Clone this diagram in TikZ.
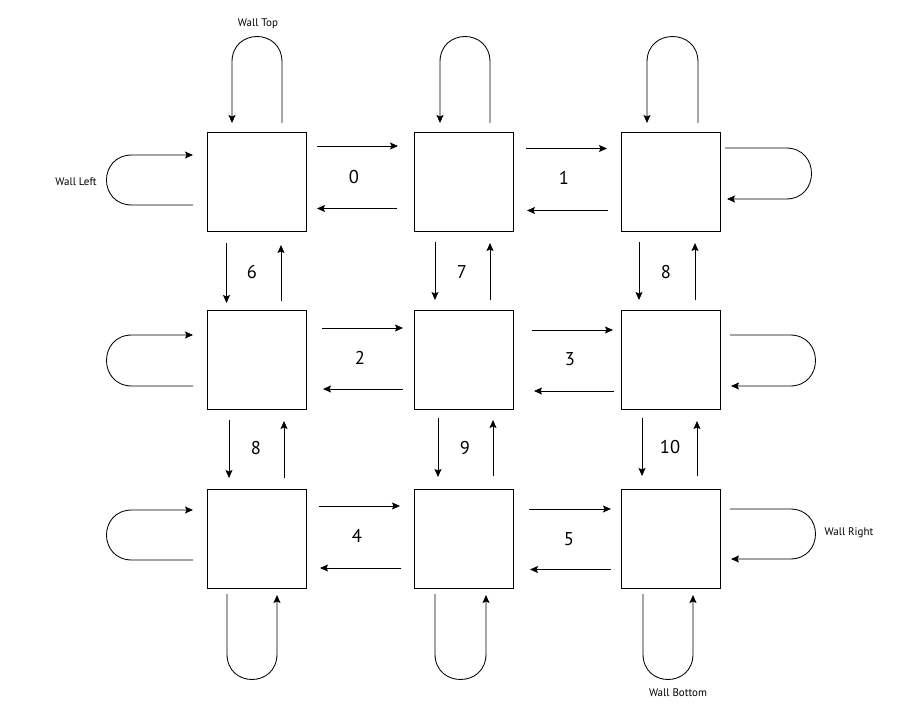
\documentclass[tikz,border=0pt]{standalone}
\usepackage{fontspec}
\setmainfont{PT Sans}
\usetikzlibrary{arrows.meta,calc}
\begin{document}
\begin{tikzpicture}[x=1pt,y=-1pt,
  cell/.style={draw=black,line width=0.95pt,minimum size=99pt,inner sep=0pt},
  arr/.style={draw=black,line width=0.85pt,-{Stealth[length=8pt,width=7pt,inset=1.5pt]}},
  num/.style={font=\fontsize{18.5}{20}\selectfont,inner sep=0pt},
  wall/.style={font=\fontsize{11}{12}\selectfont,inner sep=0pt}]
\useasboundingbox (0,0) rectangle (905,722);
\fill[white] (0,0) rectangle (905,722);
% cells
\node[cell] (n11) at (257,181.5) {};
\node[cell] (n12) at (463.5,181.5) {};
\node[cell] (n13) at (670.5,181.5) {};
\node[cell] (n21) at (257,360) {};
\node[cell] (n22) at (463.5,360) {};
\node[cell] (n23) at (670.5,360) {};
\node[cell] (n31) at (257,538.5) {};
\node[cell] (n32) at (463.5,538.5) {};
\node[cell] (n33) at (670.5,538.5) {};
% horizontal links row 1
\draw[arr] ($(n11)+(60,-35.5)$) -- ($(n12)+(-65.5,-35.5)$);
\draw[arr] ($(n12)+(-66.5,27)$) -- ($(n11)+(60,27)$);
\draw[arr] ($(n12)+(62.5,-33)$) -- ($(n13)+(-63.5,-33)$);
\draw[arr] ($(n13)+(-62.5,29)$) -- ($(n12)+(63.5,29)$);
% row 2
\draw[arr] ($(n21)+(65,-32)$) -- ($(n22)+(-60.5,-32)$);
\draw[arr] ($(n22)+(-60.5,29)$) -- ($(n21)+(66,29)$);
\draw[arr] ($(n22)+(68.5,-30)$) -- ($(n23)+(-57.5,-30)$);
\draw[arr] ($(n23)+(-56.5,31)$) -- ($(n22)+(70.5,31)$);
% row 3
\draw[arr] ($(n31)+(62,-32.5)$) -- ($(n32)+(-63.5,-32.5)$);
\draw[arr] ($(n32)+(-62.5,29.5)$) -- ($(n31)+(63,29.5)$);
\draw[arr] ($(n32)+(65.5,-29.5)$) -- ($(n33)+(-59.5,-29.5)$);
\draw[arr] ($(n33)+(-59.5,31)$) -- ($(n32)+(66.5,31)$);
% vertical links rows 1-2
\draw[arr] ($(n11)+(-30.5,61.5)$) -- ($(n21)+(-30.5,-57)$);
\draw[arr] ($(n21)+(24,-59)$) -- ($(n11)+(24,63.5)$);
\draw[arr] ($(n12)+(-28.5,60.5)$) -- ($(n22)+(-28.5,-60)$);
\draw[arr] ($(n22)+(26.5,-60)$) -- ($(n12)+(26.5,61.5)$);
\draw[arr] ($(n13)+(-31.5,60.5)$) -- ($(n23)+(-31.5,-60)$);
\draw[arr] ($(n23)+(24.5,-60)$) -- ($(n13)+(24.5,61.5)$);
% rows 2-3
\draw[arr] ($(n21)+(-28,60)$) -- ($(n31)+(-28,-60.5)$);
\draw[arr] ($(n31)+(27,-60.5)$) -- ($(n21)+(27,61)$);
\draw[arr] ($(n22)+(-25.5,58)$) -- ($(n32)+(-25.5,-61.5)$);
\draw[arr] ($(n32)+(29.5,-62.5)$) -- ($(n22)+(29.5,60)$);
\draw[arr] ($(n23)+(-28.5,58)$) -- ($(n33)+(-28.5,-62.5)$);
\draw[arr] ($(n33)+(26.5,-62.5)$) -- ($(n23)+(26.5,61)$);
% top wall loops
\draw[arr] ($(n11)+(25,-58.5)$) -- ($(n11)+(25,-119.5)$) .. controls ($(n11)+(25,-153.5)$) and ($(n11)+(-25,-153.5)$) .. ($(n11)+(-25,-119.5)$) -- ($(n11)+(-25,-58.5)$);
\draw[arr] ($(n12)+(26.5,-58.5)$) -- ($(n12)+(26.5,-119.5)$) .. controls ($(n12)+(26.5,-153.5)$) and ($(n12)+(-23.5,-153.5)$) .. ($(n12)+(-23.5,-119.5)$) -- ($(n12)+(-23.5,-58.5)$);
\draw[arr] ($(n13)+(27.5,-58.5)$) -- ($(n13)+(27.5,-119.5)$) .. controls ($(n13)+(27.5,-153.5)$) and ($(n13)+(-23.5,-153.5)$) .. ($(n13)+(-23.5,-119.5)$) -- ($(n13)+(-23.5,-58.5)$);
% left wall loops
\draw[arr] ($(n11)+(-64,23.5)$) -- ($(n11)+(-125,23.5)$) .. controls ($(n11)+(-159,23.5)$) and ($(n11)+(-159,-26.5)$) .. ($(n11)+(-125,-26.5)$) -- ($(n11)+(-64,-26.5)$);
\draw[arr] ($(n21)+(-64,26)$) -- ($(n21)+(-125,26)$) .. controls ($(n21)+(-159,26)$) and ($(n21)+(-159,-25)$) .. ($(n21)+(-125,-25)$) -- ($(n21)+(-64,-25)$);
\draw[arr] ($(n31)+(-64,21.5)$) -- ($(n31)+(-125,21.5)$) .. controls ($(n31)+(-159,21.5)$) and ($(n31)+(-159,-28.5)$) .. ($(n31)+(-125,-28.5)$) -- ($(n31)+(-64,-28.5)$);
% right wall loops
\draw[arr] ($(n13)+(54.5,-33.5)$) -- ($(n13)+(115.5,-33.5)$) .. controls ($(n13)+(149.5,-33.5)$) and ($(n13)+(149.5,17.5)$) .. ($(n13)+(115.5,17.5)$) -- ($(n13)+(56.5,17.5)$);
\draw[arr] ($(n23)+(59.5,-25)$) -- ($(n23)+(119.5,-25)$) .. controls ($(n23)+(153.5,-25)$) and ($(n23)+(153.5,26)$) .. ($(n23)+(119.5,26)$) -- ($(n23)+(60.5,26)$);
\draw[arr] ($(n33)+(59.5,-29.5)$) -- ($(n33)+(119.5,-29.5)$) .. controls ($(n33)+(153.5,-29.5)$) and ($(n33)+(153.5,20.5)$) .. ($(n33)+(119.5,20.5)$) -- ($(n33)+(60.5,20.5)$);
% bottom wall loops
\draw[arr] ($(n31)+(-30,55.5)$) -- ($(n31)+(-30,115.5)$) .. controls ($(n31)+(-30,149.5)$) and ($(n31)+(20,149.5)$) .. ($(n31)+(20,115.5)$) -- ($(n31)+(20,56.5)$);
\draw[arr] ($(n32)+(-28.5,55.5)$) -- ($(n32)+(-28.5,115.5)$) .. controls ($(n32)+(-28.5,149.5)$) and ($(n32)+(22.5,149.5)$) .. ($(n32)+(22.5,115.5)$) -- ($(n32)+(22.5,56.5)$);
\draw[arr] ($(n33)+(-27.5,55.5)$) -- ($(n33)+(-27.5,115.5)$) .. controls ($(n33)+(-27.5,149.5)$) and ($(n33)+(22.5,149.5)$) .. ($(n33)+(22.5,115.5)$) -- ($(n33)+(22.5,56.5)$);
% labels
\node[num] (l0) at (354,177) {0};
\node[num] (l1) at (564,178) {1};
\node[num] (l2) at (360,358) {2};
\node[num] (l3) at (570,359) {3};
\node[num] (l4) at (357,536) {4};
\node[num] (l5) at (569,539) {5};
\node[num] (l6) at (252,272) {6};
\node[num] (l7) at (462,272) {7};
\node[num] (l8a) at (666,272) {8};
\node[num] (l8b) at (256,448) {8};
\node[num] (l9) at (465,448) {9};
\node[num] (l10) at (670,447) {10};
\node[wall] (wt) at (258,24) {Wall Top};
\node[wall] (wl) at (76,182) {Wall Left};
\node[wall] (wr) at (849,533) {Wall Right};
\node[wall] (wb) at (678,693) {Wall Bottom};
\end{tikzpicture}
\end{document}
